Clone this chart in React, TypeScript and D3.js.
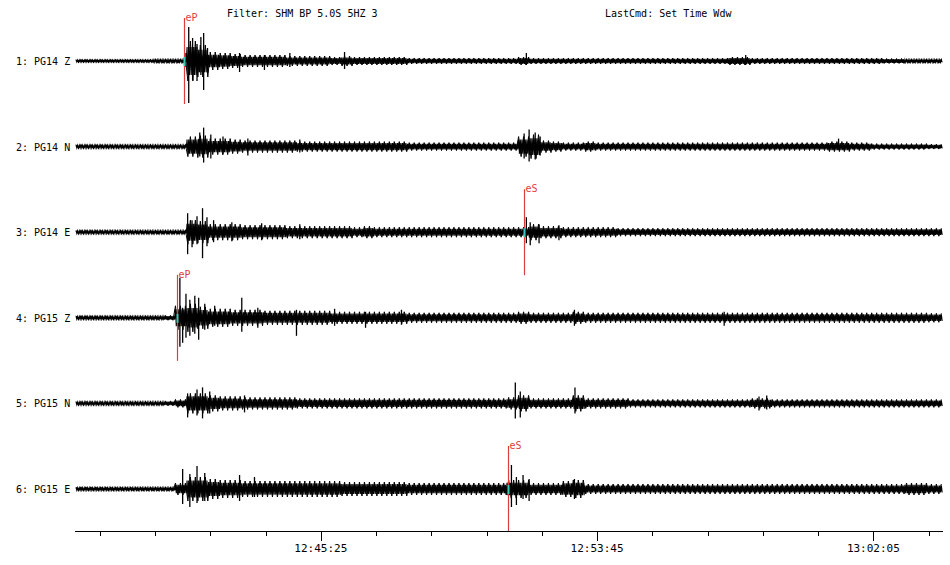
import React, { useRef, useEffect } from 'react';
import * as d3 from 'd3';

// channel labels, top to bottom
const channels = ['1: PG14 Z', '2: PG14 N', '3: PG14 E', '4: PG15 Z', '5: PG15 N', '6: PG15 E'];

// time window, seconds of day (12:38:02 .. 13:04:11)
const tStart = 45482;
const tEnd = 47051;
const binSec = 20; // envelope bin width

// envelope half-amplitudes, one value per 20 s bin
const env1 = [1.5,1.5,1.5,1.5,1.5,1.5,1.5,2,2,2, 20,16,9,8,7,6,6,6,6,5, 5,5,5,4,5,4,4,4,4,4, 3,3,3,3,3,3,3,3,3,3, 4,3,3,3,3,3,3,3,3,3, 3,3,3,3,3,3,3,3,3,4, 4,3,3,3,3,3,3,3,3,3, 3,3,3,2.5,2.5,2,2,2,2];
const env2 = [2,2,2,2,2,2,2,2,2,2, 10,11,8,8,7,6,6,6,6,6, 5,5,5,5,5,5,5,5,5,5, 4,4,4,4,4,4,4,4,4,4, 10,12,6,5,4,4,5,4,4,4, 4,4,4,4,4,4,4,4,4,4, 4,4,4,4,4,4,4,4,5,5, 4,4,3,3,3,3,3,2.5,2.5];
const env3 = [2,2,2,2,2,2,2,2,2,2, 12,11,8,8,8,7,7,7,7,6, 6,6,6,6,6,5,6,5,5,5, 5,5,5,5,5,5,5,5,5,5, 5,8,6,6,5,5,5,5,5,4, 4,4,4,4,4,4,4,4,4,4, 4,4,4,4,4,4,4,4,4,4, 4,4,4,4,4,4,4,4,4];
const env4 = [2,2,2,2,2,2,2,2,2.5,12, 14,11,9,9,8,8,8,7,7,7, 7,7,7,6,6,6,6,6,6,6, 5,5,5,5,5,5,5,5,5,5, 6,5,5,5,5,6,5,5,5,5, 5,5,5,5,5,5,5,5,5,5, 5,5,5,5,5,5,5,5,5,5, 5,5,5,5,5,5,5,4.5,4.5];
const env5 = [2,2,2,2,2,2,2,2,2.5,4, 10,10,8,7,7,6,6,6,6,6, 5,5,5,5,5,5,5,5,5,5, 5,5,5,5,5,5,5,5,5,6, 8,5,5,5,5,8,5,5,5,5, 4,4,4,4,4,4,4,4,4,4, 4,5,5,4,4,4,4,4,4,4, 4,4,4,4,4,4,4,4,4];
const env6 = [2,2,2,2,2,2,2,2,2,6, 12,12,10,9,9,8,8,8,8,8, 8,8,8,8,7,7,7,7,7,7, 6,6,6,6,6,6,6,6,6,9, 9,6,6,6,8,9,5,5,5,5, 5,5,5,5,5,5,5,5,5,5, 5,5,5,5,5,5,5,5,5,5, 5,5,5,5,5,6,6,5,5];

// larger single swings: [time, up, down]
const spikes1 = [[45681,8,6],[45686,34,42],[45693,23,19],[45701,17,20],[45708,24,14],[45713,28,29],[45720,13,12],[45778,8,11],[45823,6,9],[45869,8,6],[45968,9,8],[46297,8,4],[46694,6,4]];
const spikes2 = [[45706,14,10],[45713,19,16],[45726,12,12],[45748,10,8],[45793,8,9],[45887,7,6],[46293,13,12],[46302,17,15],[46313,14,13],[46322,10,9],[46862,8,3]];
const spikes3 = [[45684,19,22],[45692,12,15],[45701,16,12],[45711,24,26],[45719,15,14],[45731,12,10],[45764,10,9],[45818,9,8],[45887,8,7],[46297,15,11],[46304,10,13],[46320,8,11],[46356,7,8]];
const spikes4 = [[45670,40,29],[45675,10,25],[45681,24,20],[45688,18,18],[45697,22,16],[45704,20,22],[45715,14,12],[45733,12,8],[45782,20,14],[45811,10,10],[45881,8,18],[45950,9,8],[46006,6,10],[46071,8,7],[46384,8,8],[46655,6,8]];
const spikes5 = [[45684,10,14],[45701,14,12],[45711,16,15],[45724,12,10],[45787,8,9],[46277,21,15],[46286,12,14],[46385,16,10],[46718,7,7],[46732,8,6]];
const spikes6 = [[45675,20,15],[45688,15,18],[45701,23,14],[45715,16,12],[45778,14,12],[45805,12,8],[46270,24,18],[46279,12,16],[46291,14,10],[46302,10,12],[46384,10,10]];

const envelopes = [env1, env2, env3, env4, env5, env6];
const spikes = [spikes1, spikes2, spikes3, spikes4, spikes5, spikes6];

// phase picks: channel index, phase, time
const pickChannel = [0, 2, 3, 5];
const pickPhase = ['eP', 'eS', 'eP', 'eS'];
const pickTime = [45677, 46293, 45665, 46264];

// axis ticks every 100 s, labelled every 500 s
const tickTimes = [45525,45625,45725,45825,45925,46025,46125,46225,46325,46425,46525,46625,46725,46825,46925,47025];
const tickLabels = ['12:45:25', '12:53:45', '13:02:05'];
const labelTimes = [45925, 46425, 46925];

const titleFilter = 'Filter: SHM BP 5.0S 5HZ 3';
const titleCmd = 'LastCmd: Set Time Wdw';

const FONT = '"DejaVu Sans Mono", "Liberation Mono", monospace';

function App() {
    const ref = useRef(null);

    useEffect(() => {
        const svg = d3.select(ref.current);
        svg.selectAll('*').remove();

        const x = d3.scaleLinear().domain([tStart, tEnd]).range([76, 943]);
        const yBase = d3.scalePoint().domain(channels).range([61, 489]);
        const amp = d3.scaleLinear().domain([0, 50]).range([0, 50]);
        const axisY = 531;

        svg.append('text').attr('x', 227).attr('y', 17)
            .attr('font-family', FONT).attr('font-size', 10).text(titleFilter);
        svg.append('text').attr('x', 605).attr('y', 17)
            .attr('font-family', FONT).attr('font-size', 10).text(titleCmd);

        const line = d3.line();
        const envAt = (env, t) => env[Math.min(env.length - 1, Math.floor((t - tStart) / binSec))];

        channels.forEach((ch, ci) => {
            const base = yBase(ch);
            const env = envelopes[ci];
            const g = svg.append('g');

            g.append('text').attr('x', 16).attr('y', base + 4)
                .attr('font-family', FONT).attr('font-size', 10).text(ch);

            // dense core of the trace
            const core = d3.range(tStart, tEnd, 1.5).map((t, i) =>
                [x(t), base + (i % 2 ? 1 : -1) * amp(envAt(env, t)) * 0.7]);
            g.append('path').attr('d', line(core))
                .attr('fill', 'none').attr('stroke', '#000').attr('stroke-width', 1.1);

            // looser swings reaching the full envelope
            const outer = d3.range(tStart, tEnd, 4.5).map((t, i) =>
                [x(t), base + (i % 2 ? 1 : -1) * amp(envAt(env, t))]);
            g.append('path').attr('d', line(outer))
                .attr('fill', 'none').attr('stroke', '#000').attr('stroke-width', 1);

            g.selectAll('line.spk').data(spikes[ci]).enter().append('line')
                .attr('x1', d => x(d[0])).attr('x2', d => x(d[0]))
                .attr('y1', d => base - amp(d[1])).attr('y2', d => base + amp(d[2]))
                .attr('stroke', '#000').attr('stroke-width', 1.3);
        });

        // picks
        pickChannel.forEach((ci, k) => {
            const base = yBase(channels[ci]);
            const px = Math.round(x(pickTime[k])) + 0.5;
            const top = base - 43;
            const bottom = Math.min(base + 43, axisY);
            svg.append('line').attr('x1', px).attr('x2', px).attr('y1', top).attr('y2', bottom)
                .attr('stroke', '#e03c3c').attr('stroke-width', 1.2);
            svg.append('rect').attr('x', px - 1).attr('y', base - 4).attr('width', 2).attr('height', 9)
                .attr('fill', '#3cc8b4');
            svg.append('text').attr('x', px + 1).attr('y', top + 3)
                .attr('font-family', FONT).attr('font-size', 10).attr('fill', '#e03c3c')
                .text(pickPhase[k]);
        });

        // time axis
        const ax = svg.append('g');
        ax.append('line').attr('x1', 75).attr('x2', 943).attr('y1', axisY + 0.5).attr('y2', axisY + 0.5)
            .attr('stroke', '#000').attr('stroke-width', 1);
        ax.selectAll('line.tick').data(tickTimes).enter().append('line')
            .attr('x1', d => Math.round(x(d)) + 0.5).attr('x2', d => Math.round(x(d)) + 0.5)
            .attr('y1', axisY).attr('y2', d => labelTimes.includes(d) ? axisY + 10 : axisY + 5)
            .attr('stroke', '#000').attr('stroke-width', 1);
        ax.selectAll('text.tl').data(labelTimes).enter().append('text')
            .attr('x', d => x(d)).attr('y', axisY + 21)
            .attr('text-anchor', 'middle')
            .attr('font-family', FONT).attr('font-size', 11)
            .text((d, i) => tickLabels[i]);
    }, []);

    return (
        <svg ref={ref} width="950" height="565"
            style={{ position: 'absolute', left: 0, top: 0, background: '#fff' }}></svg>
    );
}

export default App;
